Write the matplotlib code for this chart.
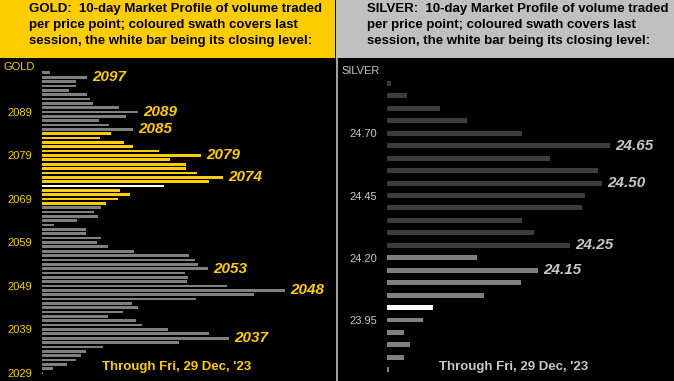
import matplotlib
matplotlib.use('Agg')
import matplotlib.pyplot as pyplot
from matplotlib.patches import Rectangle
from matplotlib.lines import Line2D
import numpy

# gold: volume profile per price point, 2029 .. 2098
gold_prices = numpy.arange(2029, 2099)
gold_volume = [1, 11, 25, 34, 39, 44, 61, 137, 187, 167,
               126, 100, 94, 66, 81, 96, 90, 154, 212, 243,
               185, 145, 146, 143, 166, 156, 153, 147, 92, 66,
               55, 59, 44, 44, 12, 35, 56, 52, 59, 64,
               76, 88, 78, 122, 167, 181, 155, 144, 144, 128,
               159, 117, 91, 82, 58, 69, 91, 67, 57, 84,
               96, 77, 51, 48, 45, 27, 34, 34, 45, 8]
gold_swath = (2068, 2084)
gold_close = 2072
gold_labels = [2097, 2089, 2085, 2079, 2074, 2053, 2048, 2037]
gold_ticks = [2029, 2039, 2049, 2059, 2069, 2079, 2089]

# silver: volume profile per 0.05 price step, 23.75 .. 24.90
silver_prices = [23.75, 23.80, 23.85, 23.90, 23.95, 24.00, 24.05, 24.10,
                 24.15, 24.20, 24.25, 24.30, 24.35, 24.40, 24.45, 24.50,
                 24.55, 24.60, 24.65, 24.70, 24.75, 24.80, 24.85, 24.90]
silver_volume = [2, 17, 23, 17, 36, 46, 97, 134,
                 151, 90, 183, 147, 135, 195, 198, 215,
                 211, 163, 223, 135, 80, 53, 20, 4]
silver_swath = (23.75, 24.20)
silver_close = 24.00
silver_labels = [24.65, 24.50, 24.25, 24.15]
silver_ticks = [23.95, 24.20, 24.45, 24.70]

W, H = 674.0, 381.0
YELLOW = '#ffcc00'
SILVERTXT = '#c8c8c8'

pyplot.rcParams['font.family'] = 'Liberation Sans'

fig = pyplot.figure(figsize=(W / 100, H / 100), dpi=100, facecolor='black')


def px_axes(x0, y0, x1, y1):
    # pixel box (top-left origin) -> figure axes
    return fig.add_axes([x0 / W, 1 - y1 / H, (x1 - x0) / W, (y1 - y0) / H])


def draw_panel(ax, prices, volume, swath, close, labels, ticks, ylim,
               height, old_col, swath_col, lab_col, tick_fmt):
    prices = numpy.asarray(prices, dtype=float)
    colors = []
    for p in prices:
        if abs(p - close) < 1e-6:
            colors.append('white')
        elif swath[0] - 1e-6 <= p <= swath[1] + 1e-6:
            colors.append(swath_col)
        else:
            colors.append(old_col)
    ax.barh(prices, volume, height=height, color=colors, linewidth=0)
    for lab in labels:
        i = numpy.argmin(numpy.abs(prices - lab))
        ax.text(volume[i] + 5, prices[i], tick_fmt % lab, color=lab_col,
                fontsize=11, fontweight='bold', fontstyle='italic',
                va='center', ha='left')
    ax.set_facecolor('black')
    ax.set_ylim(*ylim)
    ax.set_xlim(0, ax.get_position().width * W)
    ax.set_xticks([])
    ax.set_yticks(ticks)
    ax.set_yticklabels([tick_fmt % t for t in ticks])
    ax.tick_params(axis='y', length=0, pad=7.2, labelsize=8, labelcolor=lab_col)
    for s in ax.spines.values():
        s.set_visible(False)


# gold panel
gax = px_axes(42, 58, 335, 381)
draw_panel(gax, gold_prices, gold_volume, gold_swath, gold_close, gold_labels,
           gold_ticks, (2027.16, 2101.41), 0.62, '#808080', YELLOW, YELLOW, '%d')

# silver panel
sax = px_axes(387, 58, 674, 381)
draw_panel(sax, silver_prices, silver_volume, silver_swath, silver_close,
           silver_labels, silver_ticks, (23.705, 25.0025), 0.02, '#3c3c3c',
           '#808080', SILVERTXT, '%.2f')

# title boxes
fig.patches.append(Rectangle((0, 1 - 58 / H), 335 / W, 58 / H, transform=fig.transFigure,
                             facecolor=YELLOW, edgecolor='none', zorder=0))
fig.patches.append(Rectangle((336 / W, 1 - 58 / H), (W - 336) / W, 58 / H,
                             transform=fig.transFigure, facecolor='#c0c0c0',
                             edgecolor='none', zorder=0))
fig.lines.append(Line2D([336.5 / W, 336.5 / W], [0, 1 - 58 / H], transform=fig.transFigure,
                        color='#c0c0c0', lw=1.2))

title_tail = ("10-day Market Profile of volume traded\n"
              "per price point; coloured swath covers last\n"
              "session, the white bar being its closing level:")
fig.text(29 / W, 1 - 3 / H, "GOLD:  " + title_tail, color='black', fontsize=9.5,
         fontweight='bold', va='top', ha='left', linespacing=1.45)
fig.text(367 / W, 1 - 3 / H, "SILVER:  " + title_tail, color='black', fontsize=9.5,
         fontweight='bold', va='top', ha='left', linespacing=1.45)

fig.text(4 / W, 1 - 67 / H, "GOLD", color=YELLOW, fontsize=8, va='center', ha='left')
fig.text(341 / W, 1 - 71 / H, "SILVER", color=SILVERTXT, fontsize=8, va='center', ha='left')

fig.text(177 / W, 1 - 367 / H, "Through Fri, 29 Dec, '23", color=YELLOW, fontsize=9.5,
         fontweight='bold', va='center', ha='center')
fig.text(514 / W, 1 - 367 / H, "Through Fri, 29 Dec, '23", color=SILVERTXT, fontsize=9.5,
         fontweight='bold', va='center', ha='center')

fig.savefig('out.png', dpi=100, facecolor='black')
